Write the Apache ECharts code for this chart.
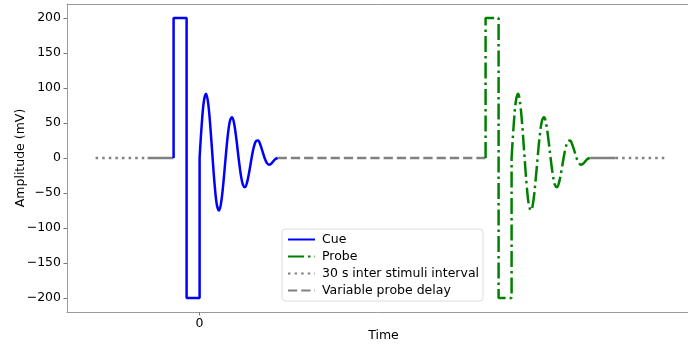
<!DOCTYPE html>
<html>
<head>
<meta charset="utf-8">
<script src="https://cdn.jsdelivr.net/npm/echarts@6/dist/echarts.min.js"></script>
<style>
html,body{margin:0;padding:0;background:#fff;}
#chart{width:688px;height:344px;}
</style>
</head>
<body>
<div id="chart"></div>
<script>
// ---- data (time in arbitrary units, amplitude in mV) ----
const cuePulseT = [-1, -1, -0.5, -0.5, 0, 0];
const cuePulseV = [0, 200, 200, -200, -200, 0];
const probePulseT = [11, 11, 11.5, 11.5, 12, 12];
const probePulseV = [0, 200, 200, -200, -200, 0];
// damped ringing after each pulse, sampled every 1/12 time unit
const ringStep = 1 / 12;
const cueRingStart = 0;
const probeRingStart = 12;
const cueRingV = [0, 48.6, 81.8, 91.7, 77.0, 43.1, 0, -40.3, -67.4, -75, -62.5, -34.7,
  0, 31.9, 52.9, 58.3, 48.1, 26.4, 0, -23.6, -38.5, -41.7, -33.7, -18.1,
  0, 15.3, 24.1, 25, 19.2, 9.7, 0, -6.9, -9.6, -8.3, -4.8, -1.4, 0];
const probeRingV = [0, 48.6, 81.8, 91.7, 77.0, 43.1, 0, -40.3, -67.4, -75, -62.5, -34.7,
  0, 31.9, 52.9, 58.3, 48.1, 26.4, 0, -23.6, -38.5, -41.7, -33.7, -18.1,
  0, 15.3, 24.1, 25, 19.2, 9.7, 0, -6.9, -9.6, -8.3, -4.8, -1.4, 0];
const isiSegments = [[-4, -2], [16, 18]];
const baselineSegments = [[-2, -1], [15, 16]];
const delaySegments = [[3, 11]];
const yTicks = [-200, -150, -100, -50, 0, 50, 100, 150, 200];
const xTicks = [0];
const xRange = [-5.1, 18.785];
const yRange = [-220, 220];
const seriesNames = ['Cue', 'Probe', '30 s inter stimuli interval', 'Variable probe delay'];

// ---- build ----
const pairs = (t, v) => t.map((x, i) => [x, v[i]]);
const ring = (start, v) => v.map((y, i) => [start + i * ringStep, y]);
const segs = (s) => {
  const out = [];
  s.forEach((p, i) => { if (i) out.push([null, null]); out.push([p[0], 0], [p[1], 0]); });
  return out;
};
const LW = 2.5;
const SPINE = '#9a9a9a';
const base = { type: 'line', symbol: 'none', showSymbol: false, animation: false, connectNulls: false };
const blue = { color: '#0000ff', lineStyle: { color: '#0000ff', width: LW, type: 'solid' } };
const green = { color: '#008000', lineStyle: { color: '#008000', width: LW, type: [16, 4, 2.5, 4] } };

const chart = echarts.init(document.getElementById('chart'), null, { renderer: 'canvas' });
const font = 'DejaVu Sans';
chart.setOption({
  animation: false,
  textStyle: { fontFamily: font },
  grid: { left: 67, top: 4, bottom: 32, right: 0, containLabel: false, outerBoundsMode: 'none', show: false },
  legend: {
    data: seriesNames,
    orient: 'vertical',
    left: 282, top: 229,
    padding: [4, 4, 4, 5],
    itemWidth: 27, itemHeight: 14, itemGap: 4,
    itemStyle: { opacity: 0 },
    backgroundColor: '#fff', borderColor: '#dcdcdc', borderWidth: 1, borderRadius: 3,
    textStyle: { fontFamily: font, fontSize: 12.5, color: '#000', padding: [0, 0, 0, 2] }
  },
  xAxis: [{
    type: 'value', min: xRange[0], max: xRange[1],
    name: 'Time', nameLocation: 'middle', nameGap: 17, nameMoveOverlap: false,
    nameTextStyle: { fontFamily: font, fontSize: 12.5, color: '#000', padding: [0, 0, 0, 12] },
    splitLine: { show: false },
    axisLine: { show: true, onZero: false, lineStyle: { color: SPINE, width: 1 } },
    axisTick: { show: true, length: 3.5, lineStyle: { color: '#777' }, customValues: xTicks },
    axisLabel: { fontFamily: font, fontSize: 12.5, color: '#000', margin: 5, customValues: xTicks }
  }, {
    type: 'value', position: 'top', min: xRange[0], max: xRange[1],
    splitLine: { show: false },
    axisLine: { show: true, onZero: false, lineStyle: { color: SPINE, width: 1 } },
    axisTick: { show: false }, axisLabel: { show: false }
  }],
  yAxis: {
    type: 'value', min: yRange[0], max: yRange[1],
    name: 'Amplitude (mV)', nameLocation: 'middle', nameGap: 40, nameMoveOverlap: false,
    nameTextStyle: { fontFamily: font, fontSize: 12.5, color: '#000' },
    splitLine: { show: false },
    axisLine: { show: true, onZero: false, lineStyle: { color: SPINE, width: 1 } },
    axisTick: { show: true, length: 3.5, lineStyle: { color: '#777' }, customValues: yTicks },
    axisLabel: {
      fontFamily: font, fontSize: 12.5, color: '#000', margin: 6, customValues: yTicks,
      formatter: v => v < 0 ? '\u2212' + Math.abs(v) : String(v)
    }
  },
  series: [
    Object.assign({}, base, { name: 'Baseline', data: segs(baselineSegments), color: '#808080', lineStyle: { color: '#808080', width: LW } }),
    Object.assign({}, base, { name: seriesNames[2], data: segs(isiSegments), color: '#808080', lineStyle: { color: '#808080', width: LW, type: [2.5, 4.1] } }),
    Object.assign({}, base, { name: seriesNames[3], data: segs(delaySegments), color: '#808080', lineStyle: { color: '#808080', width: LW, type: [9.25, 4] } }),
    Object.assign({}, base, blue, { name: 'Cue', data: pairs(cuePulseT, cuePulseV) }),
    Object.assign({}, base, blue, { name: 'Cue', data: ring(cueRingStart, cueRingV), smooth: 0.35 }),
    Object.assign({}, base, green, { name: 'Probe', data: pairs(probePulseT, probePulseV) }),
    Object.assign({}, base, green, { name: 'Probe', data: ring(probeRingStart, probeRingV), smooth: 0.35 })
  ]
});
</script>
</body>
</html>
